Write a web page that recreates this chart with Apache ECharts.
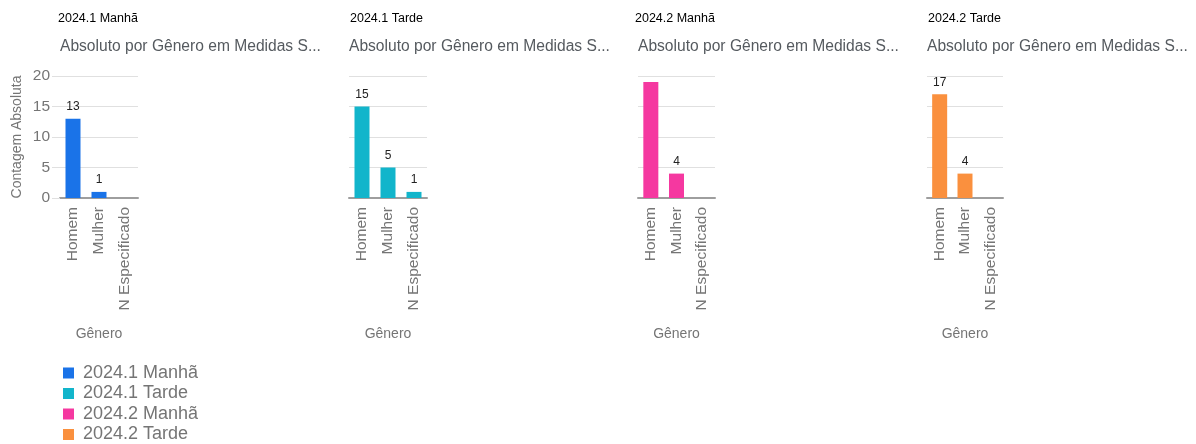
<!DOCTYPE html>
<html>
<head>
<meta charset="utf-8">
<script src="https://cdn.jsdelivr.net/npm/echarts@6/dist/echarts.min.js"></script>
<style>
  html, body { margin: 0; padding: 0; background: #fff; }
  #charts { width: 1196px; height: 444px; }
</style>
</head>
<body>
<div id="charts"></div>
<script>
// data
var turmas = ['2024.1 Manhã', '2024.1 Tarde', '2024.2 Manhã', '2024.2 Tarde'];
var generos = ['Homem', 'Mulher', 'N Especificado'];
var valores = [
    [13, 1, 0],
    [15, 5, 1],
    [19, 4, 0],
    [17, 4, 0]
];
var cores = ['#1a73e8', '#12b5cb', '#f538a0', '#fa903e'];
var subtitulo = 'Absoluto por Gênero em Medidas S...';

var myChart = echarts.init(document.getElementById('charts'));
var font = '"Liberation Sans", Arial, sans-serif';

var lefts = [60, 349, 638, 927];
var widths = [78, 78, 77, 76];
var titleX = [58, 350, 635, 928];

var titles = [], grids = [], xAxes = [], yAxes = [], seriesList = [];

turmas.forEach(function (turma, i) {
    titles.push({
        text: turma, left: titleX[i], top: 12, padding: 0,
        textStyle: { fontFamily: font, fontSize: 12.5, fontWeight: 'normal', color: '#000' }
    });
    titles.push({
        text: subtitulo, left: lefts[i], top: 39, padding: 0,
        textStyle: { fontFamily: font, fontSize: 15.6, fontWeight: 'normal', color: '#555a5f' }
    });
    grids.push({ left: lefts[i], width: widths[i], top: 76, height: 122 });
    xAxes.push({
        type: 'category', gridIndex: i, data: generos,
        name: 'Gênero', nameLocation: 'middle', nameGap: 129,
        nameTextStyle: { fontFamily: font, fontSize: 14, color: '#757575' },
        axisLine: { lineStyle: { color: '#9e9e9e', width: 2 } },
        axisTick: { show: false },
        axisLabel: { rotate: 90, margin: 9, fontFamily: font, fontSize: 15.5, color: '#757575' }
    });
    yAxes.push({
        type: 'value', gridIndex: i, min: 0, max: 20, interval: 5,
        name: i === 0 ? 'Contagem Absoluta' : '',
        nameLocation: 'middle', nameGap: 36,
        nameTextStyle: { fontFamily: font, fontSize: 14, color: '#757575' },
        axisLine: { show: false },
        axisTick: { show: i === 0, length: 8, lineStyle: { color: '#e0e0e0' } },
        axisLabel: { show: i === 0, margin: 10, fontFamily: font, fontSize: 15.5, color: '#757575' },
        splitLine: { lineStyle: { color: '#e0e0e0' } }
    });
    seriesList.push({
        type: 'bar', name: turma, xAxisIndex: i, yAxisIndex: i,
        data: valores[i], barWidth: 15,
        itemStyle: { color: cores[i] },
        label: {
            show: true, position: 'top', distance: 6,
            fontFamily: font, fontSize: 12, color: '#222',
            formatter: function (p) {
                // labels too close to the top are clipped in the original
                return (p.value === 0 || p.value > 18) ? '' : p.value;
            }
        }
    });
});

var option = {
    animation: false,
    color: cores,
    title: titles,
    grid: grids,
    xAxis: xAxes,
    yAxis: yAxes,
    legend: {
        orient: 'vertical', left: 63, top: 364, padding: 0,
        itemWidth: 11, itemHeight: 11, itemGap: 2.5,
        icon: 'rect',
        textStyle: { fontFamily: font, fontSize: 18, color: '#757575', lineHeight: 18, padding: [0, 0, 0, 4] },
        data: turmas
    },
    series: seriesList
};
myChart.setOption(option);
</script>
</body>
</html>
